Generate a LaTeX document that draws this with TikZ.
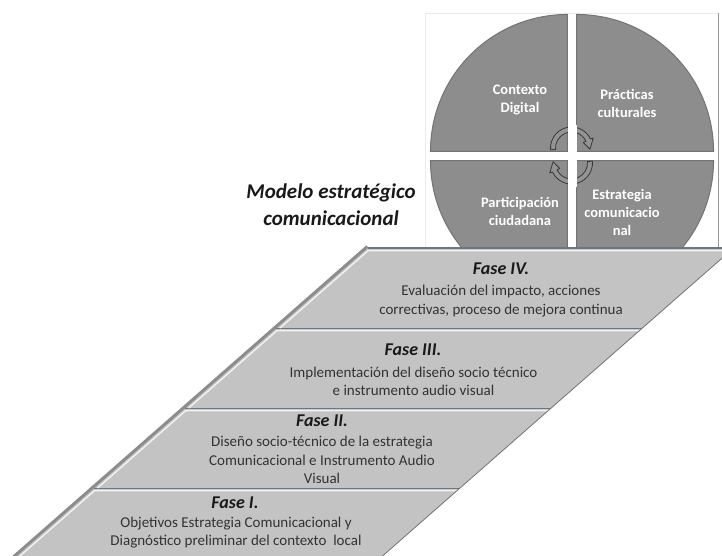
\documentclass[tikz,border=0pt]{standalone}
\usepackage{fontspec}
\setmainfont{Carlito}
\usepackage{xcolor}
\usetikzlibrary{calc,positioning}

\definecolor{bandgray}{HTML}{C3C3C3}
\definecolor{quadgray}{HTML}{8D8D8D}
\definecolor{rimgray}{HTML}{8C8C8C}
\definecolor{divgray}{HTML}{6E777E}
\definecolor{txtgray}{HTML}{333333}

\begin{document}
\begin{tikzpicture}[x=1pt, y=1pt,
	quad/.style={fill=quadgray, draw=black!55, line width=1pt},
	cyclearrow/.style={fill=black!42, draw=black!78, line width=0.8pt, line join=round},
	qlabel/.style={text=white, align=center, inner sep=0pt, font=\bfseries\fontsize{14.5}{18}\selectfont},
	fase/.style={text=black!90, inner sep=0pt, font=\bfseries\itshape\fontsize{18}{22}\selectfont},
	ftext/.style={text=txtgray, align=center, inner sep=0pt, font=\fontsize{15}{18.5}\selectfont}]
	\useasboundingbox (0,0) rectangle (722,556);
	\clip (0,0) rectangle (722,556);
	\coordinate (O) at (572,400);
	\coordinate (U) at (571.5,408);
	\coordinate (L) at (571.5,393);

	% panel behind the cycle
	\draw[fill=white, draw=black!8] (425,306) rectangle (718,543);
	\draw[black!40, line width=1pt] (718,306) -- (718,543);

	% four quarters of the circle
	\foreach \a in {0,90,180,270}
		\draw[quad] ($(O)+(\a+45:6.4)$) -- ++(\a:137) arc[start angle=\a, delta angle=90, radius=137] -- cycle;

	% the two turning arrows in the middle
	\foreach \c/\r in {U/0, L/180}
		\draw[cyclearrow] ($(\c)+(185+\r:21)$) arc[start angle=185+\r, end angle=25+\r, radius=21]
			-- ($(\c)+(25+\r:24)$) -- ($(\c)+(-4+\r:18.5)$) -- ($(\c)+(25+\r:13)$)
			-- ($(\c)+(25+\r:16)$) arc[start angle=25+\r, end angle=185+\r, radius=16] -- cycle;
	\fill[white] (567.5,369) rectangle (576.5,431);

	\node[qlabel] (ctx) at (520,456) {Contexto\\Digital};
	\node[qlabel] (prac) at (627,453) {Prácticas\\culturales};
	\node[qlabel] (part) at (520,345) {Participación\\ciudadana};
	\node[qlabel] (estr) at (622,344) {Estrategia\\comunicacio\\nal};

	\node[text=black!90, align=center, font=\bfseries\itshape\fontsize{21}{27}\selectfont] (model) at (331,351.5) {Modelo estratégico\\comunicacional};

	% the slanted stack of phases
	\begin{scope}[xslant=1.14]
		\foreach \y in {-12,68,148,228} {
			\fill[bandgray] (16.5,\y) rectangle (382.5,\y+80);
			\draw[white!80!bandgray, line width=1.4pt] (20,\y) -- (20,\y+77.3) -- (382.5,\y+77.3);
			\draw[divgray, line width=1.6pt] (16.5,\y+80) -- (382.5,\y+80);
		}
		\draw[black!55, line width=0.8pt] (382.5,-12) -- (382.5,308.8);
		\draw[rimgray, line width=3pt] (14.5,-12) -- (14.5,309.5);
	\end{scope}

	\node[fase] (f4) at (501,287) {Fase IV.};
	\node[ftext] (t4) at (501,255) {Evaluación del impacto, acciones\\correctivas, proceso de mejora continua};
	\node[fase] (f3) at (413,206) {Fase III.};
	\node[ftext] (t3) at (413.5,174.5) {Implementación del diseño socio técnico\\e instrumento audio visual};
	\node[fase] (f2) at (322,135) {Fase II.};
	\node[ftext] (t2) at (322,96) {Diseño socio-técnico de la estrategia\\Comunicacional e Instrumento Audio\\Visual};
	\node[fase] (f1) at (235,53) {Fase I.};
	\node[ftext] (t1) at (236,23.5) {Objetivos Estrategia Comunicacional y\\Diagnóstico preliminar del contexto\ \ local};
\end{tikzpicture}
\end{document}
